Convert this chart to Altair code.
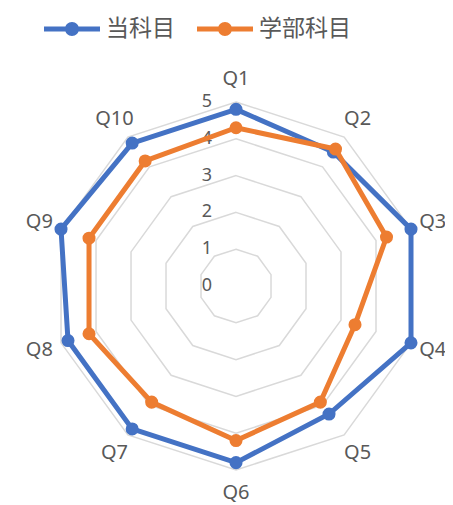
import altair as alt
import pandas as pd

cats = ["Q1", "Q2", "Q3", "Q4", "Q5", "Q6", "Q7", "Q8", "Q9", "Q10"]
series_names = ["当科目", "学部科目"]
vals_this = [4.8, 4.5, 5.0, 5.0, 4.3, 4.8, 4.8, 4.8, 5.0, 4.8]
vals_dept = [4.3, 4.6, 4.3, 3.4, 3.9, 4.2, 3.9, 4.2, 4.2, 4.2]
ring_levels = [1, 2, 3, 4, 5]
tick_values = [0, 1, 2, 3, 4, 5]
colors = ["#4472C4", "#ED7D31"]

N = len(cats)
rows = []
for name, vals in zip(series_names, [vals_this, vals_dept]):
    for i, (c, v) in enumerate(zip(cats, vals)):
        rows.append({"series": name, "idx": i, "cat": c, "value": v})
df = pd.DataFrame(rows)

ring_df = pd.DataFrame([{"level": l, "idx": i} for l in ring_levels for i in range(N)])
cat_df = pd.DataFrame({"cat": cats, "idx": list(range(N))})
tick_df = pd.DataFrame({"v": tick_values, "t": [str(t) for t in tick_values]})

W, H = 437, 497
xs = alt.Scale(domain=[-6.196, 5.679], nice=False, zero=False)
ys = alt.Scale(domain=[-5.951, 7.554], nice=False, zero=False)
ang = f"2*PI*datum.idx/{N}"

def X(f="x"):
    return alt.X(f"{f}:Q", scale=xs, axis=None)

def Y(f="y"):
    return alt.Y(f"{f}:Q", scale=ys, axis=None)

rings = alt.Chart(ring_df).transform_calculate(
    x=f"datum.level*sin({ang})", y=f"datum.level*cos({ang})"
).mark_line(interpolate="linear-closed", color="#D9D9D9", strokeWidth=1.5).encode(
    x=X(), y=Y(), detail="level:N", order="idx:Q"
)

ticks = alt.Chart(tick_df).transform_calculate(x="0").mark_text(
    dx=-29, fontSize=18, color="#595959", font="Noto Sans", align="center", baseline="middle"
).encode(x=X(), y=Y("v"), text="t:N")

catlab = alt.Chart(cat_df).transform_calculate(
    x=f"5.62*sin({ang})", y=f"5.62*cos({ang})"
).mark_text(fontSize=20, color="#595959", font="Noto Sans", align="center", baseline="middle").encode(
    x=X(), y=Y(), text="cat:N"
)

# legend glyph: thick line with a dot, drawn in a 28px symbol box extended to the right
sym = ("M-1,-0.18 L3,-0.18 L3,0.18 L-1,0.18 Z "
       "M0.5,0 A0.5,0.5 0 1,1 1.5,0 A0.5,0.5 0 1,1 0.5,0 Z")

legend = alt.Legend(
    orient="none", legendX=36, legendY=7, direction="horizontal", title=None,
    symbolType=sym, symbolSize=784, symbolStrokeWidth=0, symbolOpacity=1,
    labelFontSize=23, labelColor="#595959", labelFont="Noto Sans CJK JP",
    labelOffset=34, columnPadding=22, padding=0,
)

base = alt.Chart(df).transform_calculate(
    x=f"datum.value*sin({ang})", y=f"datum.value*cos({ang})"
)

layers = [rings, ticks, catlab]
for name, col in zip(series_names, colors):
    sub = base.transform_filter(alt.datum.series == name)
    line = sub.mark_line(interpolate="linear-closed", color=col, strokeWidth=5).encode(
        x=X(), y=Y(), order="idx:Q"
    )
    pts = sub.mark_circle(size=170, opacity=1).encode(
        x=X(), y=Y(),
        color=alt.Color("series:N", scale=alt.Scale(domain=series_names, range=colors), legend=legend),
    )
    layers += [line, pts]

chart = alt.layer(*layers).properties(
    width=W, height=H, autosize=alt.AutoSizeParams(type="none"), padding=0
).configure_view(stroke=None)

chart.save("out.html", embed_options={"renderer": "svg", "actions": False})
